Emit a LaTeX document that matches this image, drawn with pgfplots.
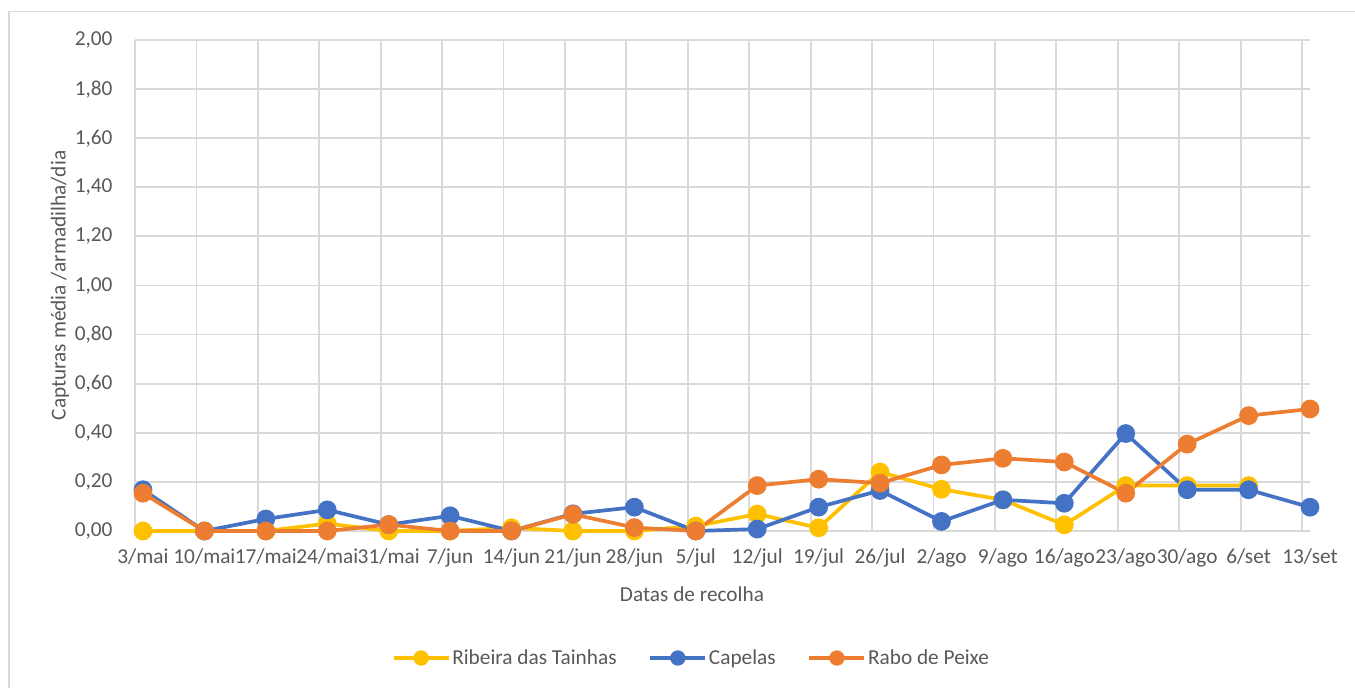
\documentclass[border=0pt]{standalone}
\usepackage{pgfplots}
\pgfplotsset{compat=1.18}
\usepackage{fontspec}
\setmainfont{Carlito}
\definecolor{cyel}{HTML}{FFC000}
\definecolor{cblue}{HTML}{4472C4}
\definecolor{corange}{HTML}{ED7D31}
\definecolor{cgrid}{HTML}{D9D9D9}
\definecolor{ctext}{HTML}{595959}
\begin{document}
\begin{tikzpicture}[x=1pt,y=1pt]
\path[use as bounding box] (0,0) rectangle (1355,688);
\draw[cgrid, line width=1.2pt] (9,0) -- (9,676.5) -- (1355,676.5);
\begin{axis}[
  at={(135pt,157pt)}, anchor=south west,
  scale only axis, width=1175pt, height=491pt,
  xmin=0, xmax=19.13, ymin=0, ymax=2,
  clip=false,
  axis line style={draw=none},
  major tick length=0pt, minor tick length=0pt,
  ytick={0,0.2,0.4,0.6,0.8,1.0,1.2,1.4,1.6,1.8,2.0},
  xtick={0.13,1.13,2.13,3.13,4.13,5.13,6.13,7.13,8.13,9.13,10.13,11.13,12.13,13.13,14.13,15.13,16.13,17.13,18.13,19.13},
  xticklabels={3/mai,10/mai,17/mai,24/mai,31/mai,7/jun,14/jun,21/jun,28/jun,5/jul,12/jul,19/jul,26/jul,2/ago,9/ago,16/ago,23/ago,30/ago,6/set,13/set},
  minor xtick={0,1,...,19},
  xmajorgrids=false, xminorgrids=true, ymajorgrids=true,
  grid style={cgrid, line width=1.8pt},
  minor grid style={cgrid, line width=1.8pt},
  /pgf/number format/.cd, fixed, fixed zerofill, precision=2, use comma, assume math mode=true,
  /pgfplots/.cd,
  tick label style={font=\fontsize{21.3}{25}\selectfont, color=ctext},
  x tick label style={yshift=-14pt},
  y tick label style={xshift=-19pt},
  xlabel={Datas de recolha},
  ylabel={Capturas média /armadilha/dia},
  label style={font=\fontsize{21.3}{25}\selectfont, color=ctext},
  xlabel style={at={(axis description cs:0.474,-0.128)}, anchor=center},
  ylabel style={at={(axis description cs:-0.0638,0.5)}, anchor=center},
  every axis plot/.append style={line width=3.7pt, mark=*, mark size=7.5pt},
  legend columns=3,
  legend style={at={(axis description cs:0.4736,-0.2587)}, anchor=center, draw=none,
    font=\fontsize{21.3}{25}\selectfont, text=ctext,
    nodes={inner xsep=2pt},
    /tikz/every even column/.append style={column sep=30pt}},
  legend image code/.code={\draw[#1, line width=3.3pt, mark size=6pt, mark repeat=2, mark phase=2] plot coordinates {(0pt,0pt) (27.5pt,0pt) (55pt,0pt)};},
]
\addplot[color=cyel, mark options={fill=cyel, draw=cyel}] coordinates {
(0.13,0) (1.13,0) (2.13,0) (3.13,0.03) (4.13,0) (5.13,0) (6.13,0.013) (7.13,0) (8.13,0) (9.13,0.02)
(10.13,0.069) (11.13,0.013) (12.13,0.24) (13.13,0.17) (14.13,0.127) (15.13,0.025) (16.13,0.185) (17.13,0.185) (18.13,0.185)};
\addlegendentry{Ribeira das Tainhas}
\addplot[color=cblue, mark options={fill=cblue, draw=cblue}] coordinates {
(0.13,0.168) (1.13,0) (2.13,0.049) (3.13,0.086) (4.13,0.026) (5.13,0.062) (6.13,0) (7.13,0.07) (8.13,0.097) (9.13,0)
(10.13,0.008) (11.13,0.097) (12.13,0.165) (13.13,0.039) (14.13,0.127) (15.13,0.113) (16.13,0.397) (17.13,0.168) (18.13,0.168) (19.13,0.097)};
\addlegendentry{Capelas}
\addplot[color=corange, mark options={fill=corange, draw=corange}] coordinates {
(0.13,0.154) (1.13,0) (2.13,0) (3.13,0) (4.13,0.026) (5.13,0) (6.13,0) (7.13,0.068) (8.13,0.014) (9.13,0)
(10.13,0.185) (11.13,0.211) (12.13,0.195) (13.13,0.269) (14.13,0.296) (15.13,0.281) (16.13,0.154) (17.13,0.354) (18.13,0.47) (19.13,0.497)};
\addlegendentry{Rabo de Peixe}
\end{axis}
\end{tikzpicture}
\end{document}
